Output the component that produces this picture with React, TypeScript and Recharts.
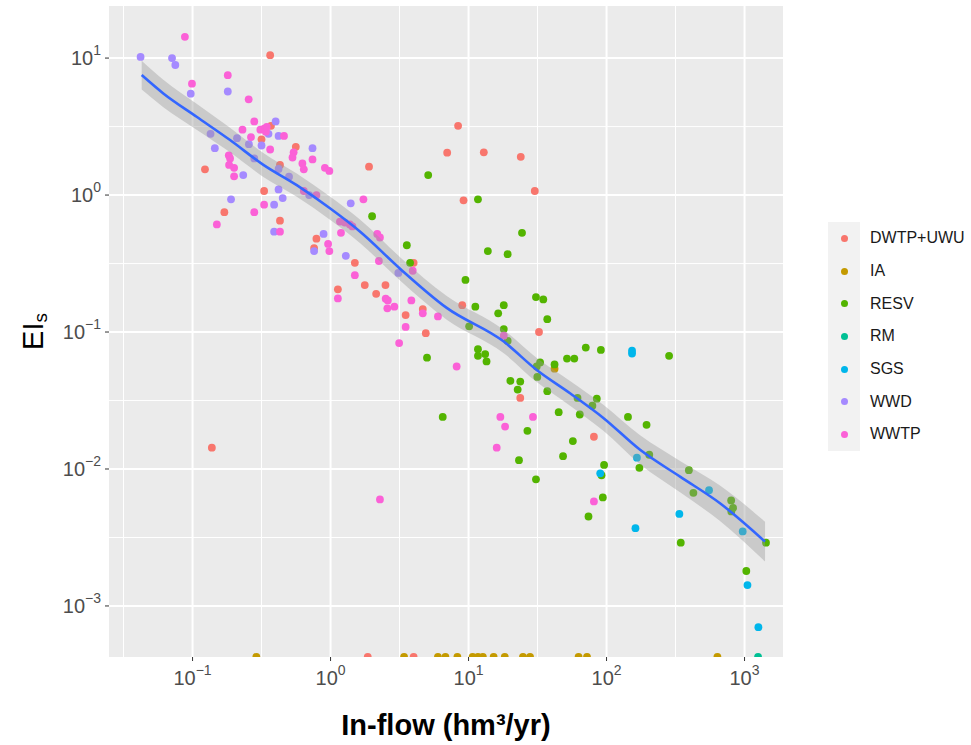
import { ComposedChart, Scatter, Line, Area, XAxis, YAxis, CartesianGrid, ReferenceLine, Legend } from "recharts";

const FONT = "'Liberation Sans', Arial, Helvetica, sans-serif";

// panel limits (log axes)
const X_MIN = 0.0248;
const X_MAX = 1900;
const Y_MIN = 0.000424;
const Y_MAX = 24;
// EIs = 0 has no place on a log axis, ggplot squishes those points onto the panel floor
const ZERO_FLOOR = Y_MIN;

const xMajor = [0.1, 1, 10, 100, 1000];
const xMinor = [0.0316, 0.316, 3.16, 31.6, 316];
const yMajor = [0.001, 0.01, 0.1, 1, 10];
const yMinor = [0.00316, 0.0316, 0.316, 3.16];

// [in-flow hm3/yr, EIs]
const dwtpPoints = [
  [0.365, 10.5], [0.37, 3.2], [0.316, 2.55], [0.56, 2.25], [0.123, 1.54], [0.43, 1.66], [1.9, 1.61],
  [7.0, 2.04], [8.4, 3.2], [12.9, 2.05], [23.9, 1.9], [30.2, 1.07], [9.2, 0.915], [0.33, 1.07],
  [0.17, 0.75], [0.43, 0.65], [0.79, 0.48], [0.76, 0.41], [1.5, 0.32], [1.13, 0.205], [1.77, 0.22],
  [2.14, 0.19], [2.5, 0.22], [4.0, 0.32], [3.5, 0.133], [4.66, 0.147], [4.9, 0.098], [9.0, 0.157],
  [32.4, 0.1], [23.7, 0.033], [81, 0.0172], [0.138, 0.0143],
];
const dwtpZeroFlows = [1.86, 4.0];

const iaPoints = [[42, 0.054]];
const iaZeroFlows = [0.29, 3.41, 6.0, 6.8, 8.3, 10.7, 11.7, 12.7, 15.2, 18.3, 24.8, 27.9, 62.7, 72.2, 636];

const resvPoints = [
  [5.1, 1.4], [11.7, 0.93], [2.0, 0.7], [3.57, 0.43], [3.77, 0.32], [5.0, 0.065], [6.5, 0.024],
  [24.4, 0.53], [13.8, 0.39], [19.2, 0.37], [9.5, 0.24], [11.2, 0.153], [18, 0.157], [16.4, 0.137],
  [30.8, 0.18], [34.8, 0.173], [37.2, 0.124], [18, 0.105], [19.2, 0.086], [10.1, 0.11], [11.7, 0.075],
  [11.7, 0.067], [13.2, 0.069], [13.5, 0.061], [70.7, 0.077], [91, 0.074], [284, 0.067], [33, 0.06],
  [31.2, 0.056], [42, 0.058], [51.7, 0.064], [58.4, 0.064], [31.5, 0.047], [20.1, 0.044], [23.7, 0.0435],
  [22.7, 0.038], [37.2, 0.037], [61.6, 0.033], [85, 0.0326], [79, 0.029], [64, 0.025], [45, 0.026],
  [26.7, 0.019], [143, 0.024], [195, 0.021], [57, 0.016], [23.2, 0.0116], [48.4, 0.0124], [173, 0.0102],
  [96, 0.0107], [395, 0.0098], [204, 0.0127], [30.8, 0.0084], [92, 0.009], [94, 0.0062], [74, 0.0045],
  [426, 0.0067], [345, 0.0029], [800, 0.0059], [826, 0.0052], [802, 0.0049], [1430, 0.0029], [1030, 0.0018],
];

const rmZeroFlows = [1253];

const sgsPoints = [
  [153, 0.073], [153, 0.0697], [166, 0.0121], [90, 0.0093], [553, 0.007], [162, 0.0037], [337, 0.0047],
  [970, 0.0035], [1050, 0.00142], [1260, 0.0007],
];

const wwdPoints = [
  [0.042, 10.2], [0.071, 10.0], [0.075, 8.9], [0.097, 5.5], [0.18, 5.7], [0.4, 3.45], [0.135, 2.8],
  [0.21, 2.6], [0.355, 2.8], [0.42, 2.7], [0.145, 2.2], [0.256, 2.35], [0.316, 2.3], [0.74, 2.2],
  [0.233, 1.4], [0.28, 1.85], [0.42, 1.55], [0.5, 1.36], [0.42, 1.1], [0.45, 0.95], [0.19, 0.93],
  [0.7, 1.0], [1.4, 0.87], [0.39, 0.85], [0.39, 0.54], [0.89, 0.52], [0.76, 0.39], [1.29, 0.36], [3.1, 0.27],
];

const wwtpPoints = [
  [0.088, 14.3], [0.099, 6.5], [0.18, 7.5], [0.255, 5.0], [0.28, 3.45], [0.31, 3.0], [0.33, 3.05],
  [0.34, 2.9], [0.345, 3.15], [0.23, 3.0], [0.265, 2.65], [0.46, 2.7], [0.365, 2.15], [0.183, 1.95],
  [0.187, 1.85], [0.54, 2.05], [0.53, 1.88], [0.74, 1.82], [0.184, 1.66], [0.2, 1.58], [0.2, 1.37],
  [0.625, 1.7], [0.64, 1.54], [0.91, 1.58], [0.98, 1.5], [0.64, 1.07], [0.79, 1.0], [1.73, 0.93],
  [0.28, 0.75], [0.33, 0.85], [0.15, 0.61], [0.43, 0.54], [1.17, 0.64], [1.27, 0.63], [1.38, 0.61],
  [1.44, 0.59], [1.19, 0.53], [2.18, 0.52], [2.28, 0.49], [0.96, 0.44], [0.98, 0.39], [1.5, 0.26],
  [1.13, 0.176], [2.51, 0.175], [2.6, 0.17], [2.58, 0.149], [2.9, 0.153], [2.24, 0.33], [3.94, 0.28],
  [3.85, 0.17], [3.5, 0.109], [4.66, 0.137], [6.0, 0.13], [3.14, 0.083], [2.28, 0.006], [8.2, 0.056],
  [18, 0.094], [17, 0.024], [29.3, 0.024], [18.4, 0.0204], [16, 0.0143], [81, 0.0058],
];

// loess fit with its confidence band
const smoothX = [0.0428, 0.0614, 0.107, 0.187, 0.326, 0.569, 0.99, 1.64, 3.19, 6.95, 17.9, 31.2, 54.4, 94.8, 175, 341, 664, 1408];
const smoothFit = [7.52, 5.52, 3.73, 2.52, 1.66, 1.18, 0.8, 0.54, 0.29, 0.15, 0.0855, 0.0528, 0.0357, 0.0236, 0.0138, 0.00879, 0.00562, 0.00295];
const smoothHi = [9.58, 6.95, 4.64, 3.1, 2.03, 1.435, 0.975, 0.66, 0.352, 0.183, 0.104, 0.0647, 0.0439, 0.0294, 0.0176, 0.01145, 0.00758, 0.00412];
const smoothLo = [5.9, 4.38, 3.0, 2.05, 1.355, 0.97, 0.66, 0.445, 0.238, 0.123, 0.0703, 0.0431, 0.029, 0.019, 0.01083, 0.00675, 0.00417, 0.00211];

const toRows = (pts: number[][]) => pts.map(([x, y]) => ({ x, y }));
const floorRows = (xs: number[]) => xs.map((x) => ({ x, y: ZERO_FLOOR }));

const series = [
  { name: "DWTP+UWU", color: "#F8766D", data: [...toRows(dwtpPoints), ...floorRows(dwtpZeroFlows)] },
  { name: "IA", color: "#C49A00", data: [...toRows(iaPoints), ...floorRows(iaZeroFlows)] },
  { name: "RESV", color: "#53B400", data: toRows(resvPoints) },
  { name: "RM", color: "#00C094", data: floorRows(rmZeroFlows) },
  { name: "SGS", color: "#00B6EB", data: toRows(sgsPoints) },
  { name: "WWD", color: "#A58AFF", data: toRows(wwdPoints) },
  { name: "WWTP", color: "#FB61D7", data: toRows(wwtpPoints) },
];

const smoothRows = smoothX.map((x, i) => ({ x, fit: smoothFit[i], band: [smoothLo[i], smoothHi[i]] }));

const expLabel = (v: number) => {
  const e = Math.round(Math.log10(v));
  return e < 0 ? `\u2212${-e}` : String(e);
};

const XTick = (props: any) => {
  const { x, y, payload } = props;
  return (
    <text x={x} y={y + 22} textAnchor="middle" fill="#4D4D4D" fontSize={20} fontFamily={FONT}>
      10<tspan dy={-10} fontSize={14}>{expLabel(payload.value)}</tspan>
    </text>
  );
};

const YTick = (props: any) => {
  const { x, y, payload } = props;
  return (
    <text x={x - 2} y={y + 7} textAnchor="end" fill="#4D4D4D" fontSize={20} fontFamily={FONT}>
      10<tspan dy={-10} fontSize={14}>{expLabel(payload.value)}</tspan>
    </text>
  );
};

const XTitle = (props: any) => {
  const { viewBox } = props;
  return (
    <text x={viewBox.x + viewBox.width / 2} y={viewBox.y + 78} textAnchor="middle" fontSize={29} fontWeight="bold" fill="#000" fontFamily={FONT}>
      In-flow (hm³/yr)
    </text>
  );
};

const YTitle = (props: any) => {
  const { viewBox } = props;
  const cx = 43;
  const cy = viewBox.y + viewBox.height / 2;
  return (
    <text x={cx} y={cy} transform={`rotate(-90, ${cx}, ${cy})`} textAnchor="middle" fontSize={29} fill="#000" fontFamily={FONT}>
      EI<tspan dy={4} fontSize={19}>s</tspan>
    </text>
  );
};

const LegendBox = () => (
  <div style={{ fontFamily: FONT, fontSize: 16, color: "#1A1A1A" }}>
    {series.map((s) => (
      <div key={s.name} style={{ display: "flex", alignItems: "center", height: 32.7 }}>
        <div style={{ width: 32, height: "100%", background: "#F2F2F2", display: "flex", alignItems: "center", justifyContent: "center" }}>
          <div style={{ width: 7, height: 7, borderRadius: "50%", background: s.color }} />
        </div>
        <span style={{ marginLeft: 10, whiteSpace: "nowrap" }}>{s.name}</span>
      </div>
    ))}
  </div>
);

const Dot = (color: string) => (props: any) => <circle cx={props.cx} cy={props.cy} r={3.9} fill={color} />;

export default function App() {
  return (
    <div style={{ position: "absolute", left: 0, top: 0, background: "#fff" }}>
      <ComposedChart width={971} height={745} data={smoothRows} margin={{ top: 6, right: 188, bottom: 0, left: 0 }}>
        <CartesianGrid fill="#EBEBEB" horizontal={false} vertical={false} />
        {yMinor.map((v) => (
          <ReferenceLine key={`ym${v}`} y={v} stroke="#FFFFFF" strokeWidth={1} zIndex={-50} />
        ))}
        {xMinor.map((v) => (
          <ReferenceLine key={`xm${v}`} x={v} stroke="#FFFFFF" strokeWidth={1} zIndex={-50} />
        ))}
        {yMajor.map((v) => (
          <ReferenceLine key={`yM${v}`} y={v} stroke="#FFFFFF" strokeWidth={2} zIndex={-50} />
        ))}
        {xMajor.map((v) => (
          <ReferenceLine key={`xM${v}`} x={v} stroke="#FFFFFF" strokeWidth={2} zIndex={-50} />
        ))}
        <XAxis
          dataKey="x"
          type="number"
          scale="log"
          domain={[X_MIN, X_MAX]}
          allowDataOverflow
          ticks={xMajor}
          interval={0}
          height={88}
          tickSize={4}
          tickLine={{ stroke: "#333333" }}
          axisLine={false}
          tick={<XTick />}
          label={<XTitle />}
        />
        <YAxis
          dataKey="y"
          type="number"
          scale="log"
          domain={[Y_MIN, Y_MAX]}
          allowDataOverflow
          ticks={yMajor}
          interval={0}
          width={109}
          tickSize={4}
          tickLine={{ stroke: "#333333" }}
          axisLine={false}
          tick={<YTick />}
          label={<YTitle />}
        />
        {series.map((s) => (
          <Scatter key={s.name} name={s.name} data={s.data} fill={s.color} shape={Dot(s.color)} isAnimationActive={false} />
        ))}
        <Area dataKey="band" type="monotone" stroke="none" fill="#999999" fillOpacity={0.4} isAnimationActive={false} zIndex={700} />
        <Line dataKey="fit" type="monotone" stroke="#3366FF" strokeWidth={2.6} dot={false} activeDot={false} isAnimationActive={false} zIndex={710} />
        <Legend
          layout="horizontal"
          verticalAlign="middle"
          align="center"
          content={<LegendBox />}
          wrapperStyle={{ left: 828, top: 222, width: 140 }}
        />
      </ComposedChart>
    </div>
  );
}
